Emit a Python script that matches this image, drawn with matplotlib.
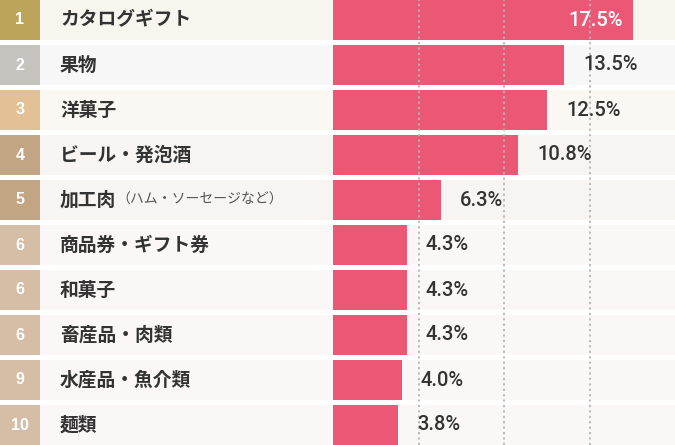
import matplotlib
matplotlib.use("Agg")
import matplotlib.pyplot as plt
from matplotlib.transforms import offset_copy

ranks = ["1", "2", "3", "4", "5", "6", "6", "6", "9", "10"]
labels = ["カタログギフト", "果物", "洋菓子", "ビール・発泡酒", "加工肉",
          "商品券・ギフト券", "和菓子", "畜産品・肉類", "水産品・魚介類", "麺類"]
sub_labels = ["", "", "", "", "（ハム・ソーセージなど）", "", "", "", "", ""]
values = [17.5, 13.5, 12.5, 10.8, 6.3, 4.3, 4.3, 4.3, 4.0, 3.8]

badge_colors = ["#BCA45B", "#C4C3BE", "#E3C196", "#C2A583", "#C2A583",
                "#D5BEA5", "#D5BEA5", "#D5BEA5", "#D5BEA5", "#D5BEA5"]
row_colors = ["#F8F5EF", "#F7F7F7", "#FBF8F3", "#F8F4F1", "#F8F4F1",
              "#FAF7F6", "#FAF7F6", "#FAF7F6", "#FAF7F6", "#FAF7F6"]
bar_color = "#EB5876"
text_color = "#333333"

W, H = 675, 445
fig = plt.figure(figsize=(W / 100, H / 100), dpi=100)
fig.patch.set_facecolor("white")

n = len(values)
pitch = 45.0
row_h = 40.0
top = (row_h / 2) / pitch
ylim = (n - 1 + top, -top)
bh = row_h / pitch
ys = list(range(n))

split = 333
# label side
axl = fig.add_axes([0, 0, split / W, 1])
axl.set_xlim(0, split)
axl.set_ylim(*ylim)
axl.axis("off")
axl.barh(ys, [40] * n, left=0, height=bh, color=badge_colors, linewidth=0)
axl.barh(ys, [split - 40] * n, left=40, height=bh, color=row_colors, linewidth=0)
jp = ["Noto Sans CJK JP", "DejaVu Sans"]
for i in range(n):
    axl.text(20, i, ranks[i], ha="center", va="center", color="white",
             fontsize=11.5, fontweight="bold", family=["Liberation Sans", "DejaVu Sans"])
    t = axl.text(60, i, labels[i], ha="left", va="center", color=text_color,
                 fontsize=13.5, fontweight="bold", family=jp)
    if sub_labels[i]:
        axl.annotate(sub_labels[i], xy=(1, 0.5), xycoords=t, ha="left", va="center",
                     color="#555555", fontsize=10, family=jp)

# bar side
ax = fig.add_axes([split / W, 0, 1 - split / W, 1])
ax.set_xlim(0, (W - split) / 17.13)
ax.set_ylim(*ylim)
ax.axis("off")
ax.barh(ys, [ax.get_xlim()[1]] * n, height=bh, color=row_colors, linewidth=0, zorder=1)
ax.barh(ys, values, height=bh, color=bar_color, linewidth=0, zorder=2)
for gx in [5, 10, 15]:
    ax.axvline(gx, color="#B5B5B5", linestyle=(0, (1.2, 1.8)), linewidth=1.3, zorder=3,
               ymin=0, ymax=1)

num_font = ["Roboto", "DejaVu Sans"]
for i, v in enumerate(values):
    if i == 0:
        tr = offset_copy(ax.transData, fig=fig, x=-10, y=0, units="dots")
        ax.text(v, i, f"{v:.1f}%", transform=tr, ha="right", va="center",
                color="white", fontsize=14.5, fontweight="medium", family=num_font, zorder=4)
    else:
        tr = offset_copy(ax.transData, fig=fig, x=19, y=0, units="dots")
        ax.text(v, i, f"{v:.1f}%", transform=tr, ha="left", va="center",
                color=text_color, fontsize=14.5, fontweight="medium", family=num_font, zorder=4)

fig.savefig("out.png", dpi=100, facecolor="white")
